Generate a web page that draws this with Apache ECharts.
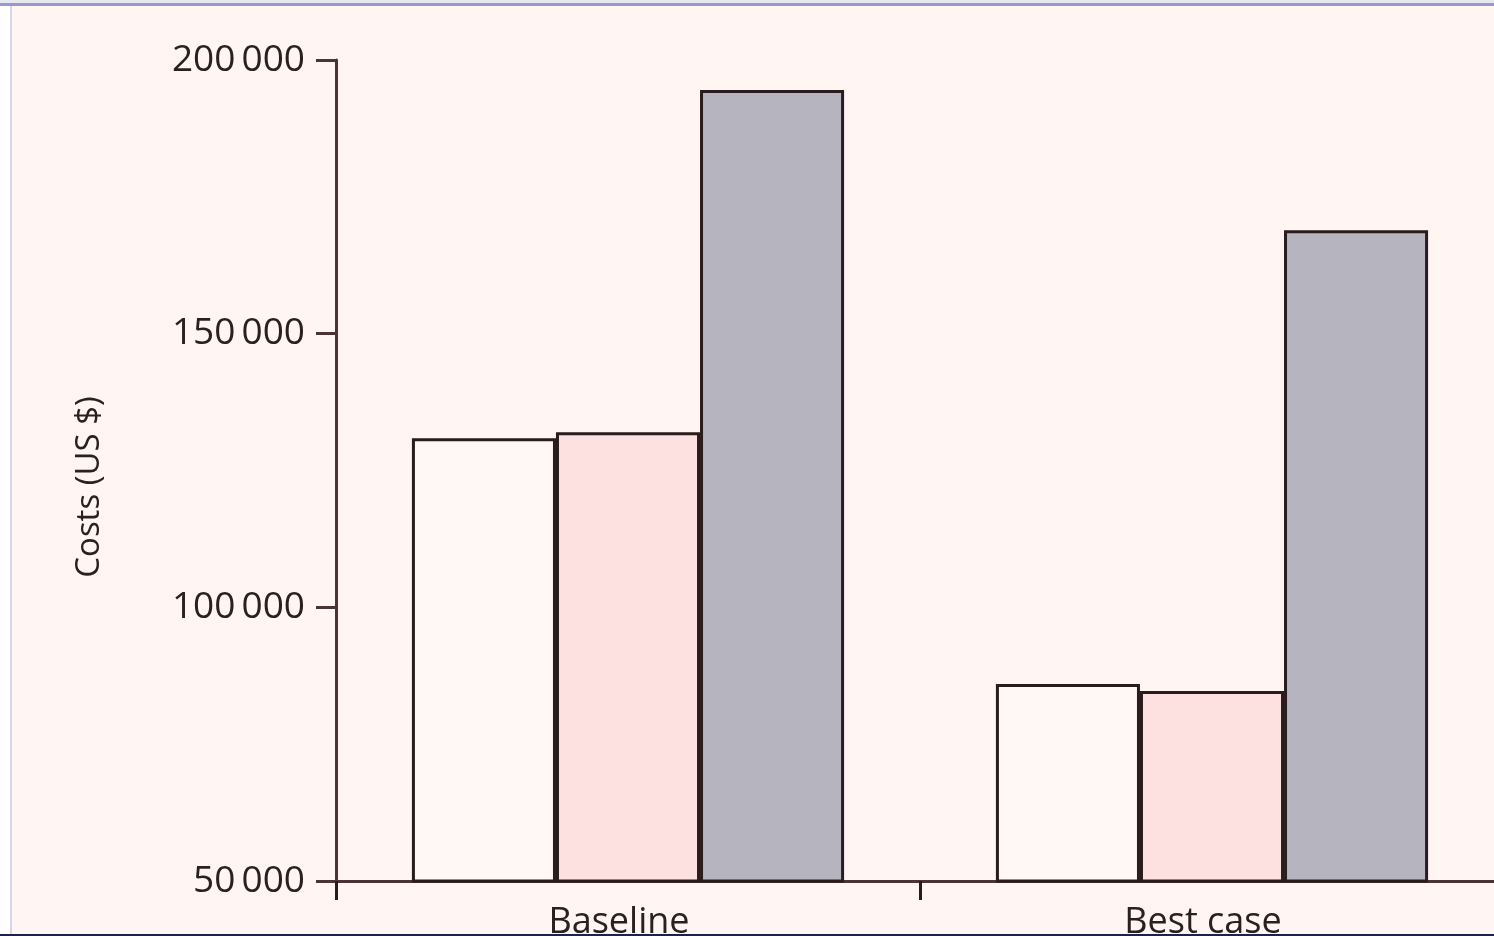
<!DOCTYPE html>
<html><head><meta charset="utf-8">
<script src="https://cdn.jsdelivr.net/npm/echarts@6/dist/echarts.min.js"></script>
<style>html,body{margin:0;padding:0;overflow:hidden;background:#fff5f2;width:1494px;height:936px}#c{width:1504px;height:936px}</style>
</head><body><div id="c"></div>
<script>
const categories = ['Baseline', 'Best case'];
const seriesA = [130900, 86000];   // white bars
const seriesB = [132000, 84700];   // light pink bars
const seriesC = [194500, 168900];  // grey bars
const yTicks = [50000, 100000, 150000, 200000];
const yTitle = 'Costs (US $)';

const chart = echarts.init(document.getElementById('c'));
const edge = '#2a1c1c';
const barStyle = (fill) => ({ color: fill, borderColor: edge, borderWidth: 3 });
chart.setOption({
  backgroundColor: '#fff5f2',
  animation: false,
  grid: { left: 336, right: 0, top: 60, bottom: 55, containLabel: false, outerBoundsMode: 'none' },
  xAxis: {
    type: 'category', data: categories,
    axisLine: { lineStyle: { color: '#4a3434', width: 3 } },
    axisTick: { show: true, length: 19, lineStyle: { color: '#2a1c1c', width: 3 } },
    axisLabel: { color: '#2a2020', fontSize: 36, fontFamily: 'Open Sans', margin: 24, padding: [0, 18, 0, 0] }
  },
  yAxis: {
    type: 'value', min: yTicks[0], max: yTicks[yTicks.length - 1], interval: yTicks[1] - yTicks[0],
    splitLine: { show: false },
    axisLine: { show: true, lineStyle: { color: '#4a3434', width: 3 } },
    axisTick: { show: true, length: 20, lineStyle: { color: '#4a3434', width: 3 } },
    axisLabel: { color: '#2a2020', fontSize: 37, fontFamily: 'Open Sans', margin: 31,
      formatter: v => String(v).replace(/(\d)(\d{3})$/, '$1\u2009$2') }
  },
  series: [
    { type: 'bar', data: seriesA, itemStyle: barStyle('#fff8f5'), barGap: '0%', barCategoryGap: '26%' },
    { type: 'bar', data: seriesB, itemStyle: barStyle('#fde0e0') },
    { type: 'bar', data: seriesC, itemStyle: barStyle('#b6b4bf') }
  ],
  graphic: [
    { type: 'text', x: 90, y: 487, rotation: Math.PI / 2,
      style: { text: yTitle, fill: '#2a2020', font: '33px "Open Sans"', align: 'center', verticalAlign: 'middle' } },
    { type: 'rect', shape: { x: 0, y: 0, width: 10, height: 936 }, style: { fill: '#ffffff' }, z: 100 },
    { type: 'line', shape: { x1: 11, y1: 6, x2: 11, y2: 936 }, style: { stroke: '#d6d6ec', lineWidth: 2 }, z: 100 },
    { type: 'rect', shape: { x: 0, y: 0, width: 1504, height: 3 }, style: { fill: '#e8e8f0' }, z: 100 },
    { type: 'rect', shape: { x: 0, y: 3, width: 1504, height: 3 }, style: { fill: '#9898cc' }, z: 100 },
    { type: 'rect', shape: { x: 0, y: 934, width: 1504, height: 2 }, style: { fill: '#202050' }, z: 100 }
  ]
});
</script></body></html>
